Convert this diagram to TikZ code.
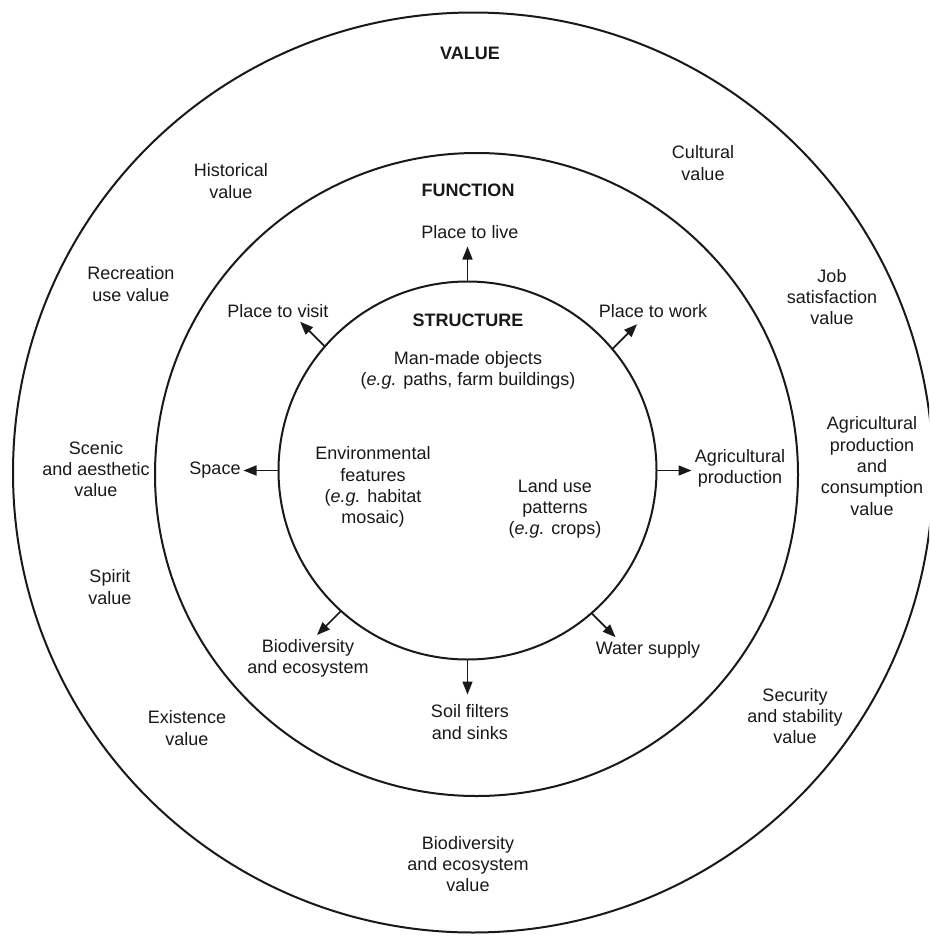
\documentclass[tikz,border=0pt]{standalone}
\usepackage{fontspec}
\setmainfont{Liberation Sans}
\usetikzlibrary{arrows.meta}
\tikzset{
  ring/.style={circle, draw=black!90, line width=2pt, inner sep=0pt, outer sep=0pt},
  lbl/.style={align=center, inner sep=0pt, font=\fontsize{18}{21.3}\selectfont, text=black!90},
  hdr/.style={lbl, font=\fontsize{18}{21.3}\selectfont\bfseries},
  arr/.style={line width=1.7pt, draw=black!90, -{Triangle[length=13pt,width=10pt]}}
}
\begin{document}
\begin{tikzpicture}[x=1pt,y=1pt]
\useasboundingbox (0,0) rectangle (929,-937);
\clip (0,0) rectangle (929,-937);
\fill[white] (0,0) rectangle (929,-937);
% circles
\node[ring, minimum size=920pt] (outer) at (473,-472.5) {};
\node[ring, minimum size=643pt] (middle) at (476.5,-474.5) {};
\node[ring, minimum size=378pt] (inner) at (467.5,-470.5) {};
% value ring
\node[hdr] (val) at (470,-53) {VALUE};
\node[lbl] (hist) at (231,-181) {Historical\\value};
\node[lbl] (cult) at (703,-163) {Cultural\\value};
\node[lbl] (recr) at (131,-284) {Recreation\\use value};
\node[lbl] (job) at (832,-297) {Job\\satisfaction\\value};
\node[lbl] (scen) at (96,-469) {Scenic\\and aesthetic\\value};
\node[lbl] (agv) at (872,-466) {Agricultural\\production\\and\\consumption\\value};
\node[lbl] (spir) at (110,-587) {Spirit\\value};
\node[lbl] (exis) at (187,-728) {Existence\\value};
\node[lbl] (sec) at (795,-716) {Security\\and stability\\value};
\node[lbl] (biov) at (468,-864) {Biodiversity\\and ecosystem\\value};
% function ring
\node[hdr] (func) at (468,-190) {FUNCTION};
\node[lbl] (live) at (470,-232) {Place to live};
\node[lbl] (visit) at (278,-311) {Place to visit};
\node[lbl] (work) at (653,-311) {Place to work};
\node[lbl] (space) at (215,-470) {Space};
\node[lbl] (agf) at (740,-468) {Agricultural\\production};
\node[lbl] (biof) at (308,-658) {Biodiversity\\and ecosystem};
\node[lbl] (soil) at (470,-722) {Soil filters\\and sinks};
\node[lbl] (water) at (648,-650) {Water supply};
% structure
\node[hdr] (struct) at (468,-320) {STRUCTURE};
\node[lbl] (man) at (468,-370) {Man-made objects\\(\textit{e.g.} paths, farm buildings)};
\node[lbl] (env) at (373,-487) {Environmental\\features\\(\textit{e.g.} habitat\\mosaic)};
\node[lbl] (land) at (555,-509) {Land use\\patterns\\(\textit{e.g.} crops)};
% arrow tips
\path (inner.90) ++(90:35) coordinate (tLive);
\path (inner.40) ++(45:35) coordinate (tWork);
\path (inner.139) ++(135:35) coordinate (tVisit);
\path (inner.180) ++(180:35) coordinate (tSpace);
\path (inner.0) ++(0:35) coordinate (tAgf);
\path (inner.228) ++(225:34) coordinate (tBio);
\path (inner.270) ++(270:35) coordinate (tSoil);
\path (inner.311) ++(315:34) coordinate (tWater);
\draw[arr] (inner.90) -- (tLive);
\draw[arr] (inner.40) -- (tWork);
\draw[arr] (inner.139) -- (tVisit);
\draw[arr] (inner.180) -- (tSpace);
\draw[arr] (inner.0) -- (tAgf);
\draw[arr] (inner.228) -- (tBio);
\draw[arr] (inner.270) -- (tSoil);
\draw[arr] (inner.311) -- (tWater);
\end{tikzpicture}
\end{document}
